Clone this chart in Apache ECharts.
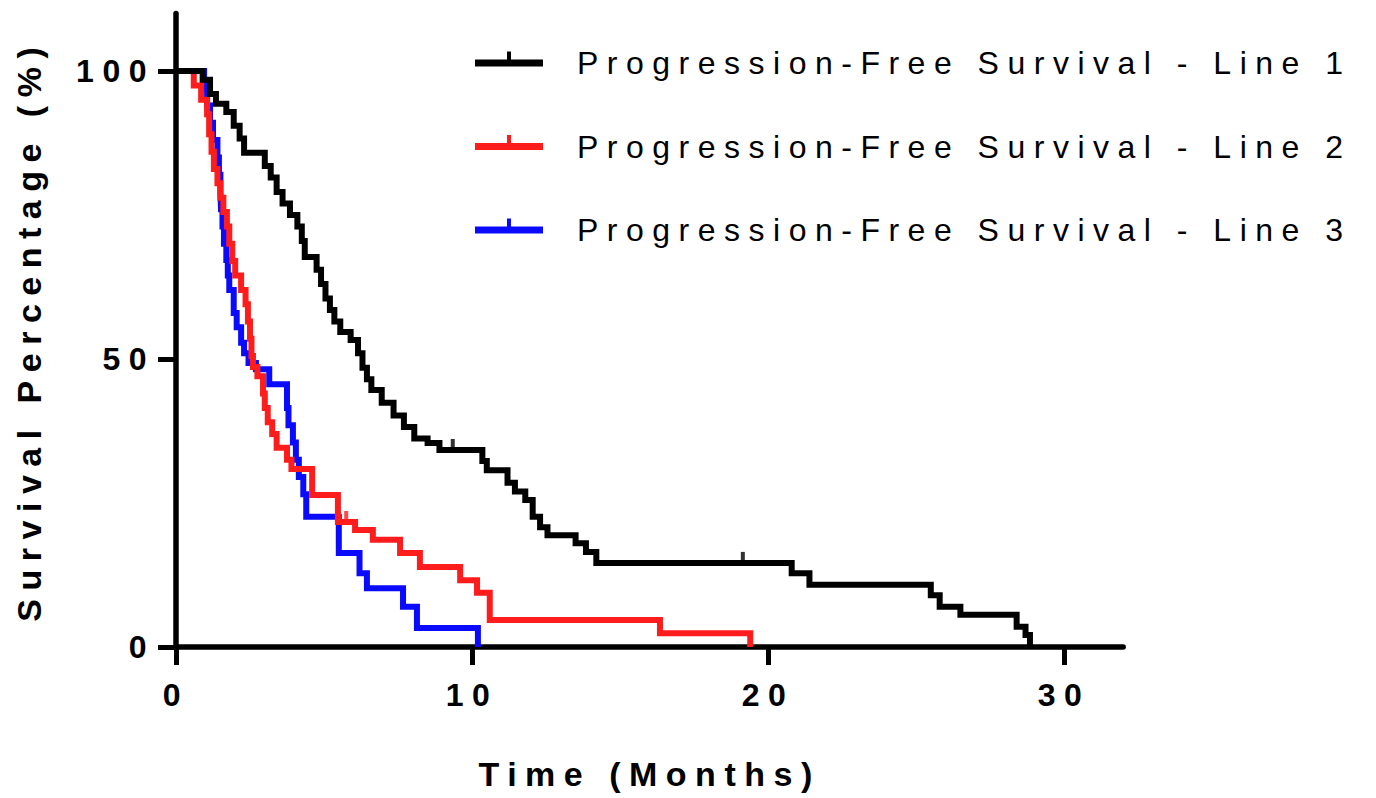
<!DOCTYPE html>
<html>
<head>
<meta charset="utf-8">
<script src="https://cdn.jsdelivr.net/npm/echarts@6.0.0/dist/echarts.min.js"></script>
<style>
  html, body { margin: 0; padding: 0; background: #fff; }
  #chart { width: 1376px; height: 798px; }
  #chart text { letter-spacing: 8.5px; }
</style>
</head>
<body>
<div id="chart"></div>
<script>
// ---- data ----
const seriesNames = [
  'Progression-Free Survival - Line 1',
  'Progression-Free Survival - Line 2',
  'Progression-Free Survival - Line 3'
];
const line1Months = [0, 0.9, 1.15, 1.35, 1.7, 1.95, 2.15, 2.3, 3.0, 3.2, 3.4, 3.6, 3.85, 4.1, 4.25, 4.35,
  4.75, 4.9, 5.05, 5.2, 5.35, 5.55, 5.9, 6.15, 6.3, 6.45, 6.6, 6.95, 7.35, 7.7, 8.05, 8.5, 8.9,
  10.35, 10.5, 11.2, 11.45, 11.8, 12.05, 12.3, 12.55, 13.5, 13.85, 14.2, 20.8, 21.4, 25.5, 25.8, 26.5, 28.4, 28.7, 28.85];
const line1Survival = [100, 98.5, 96, 94.3, 92.9, 90.5, 88.3, 85.8, 83.5, 81.5, 79, 77, 75, 73, 70.5, 67.7,
  65.5, 63, 60.5, 58.5, 56.5, 54.7, 53.3, 51, 48.5, 46.5, 44.6, 42.4, 40.2, 38.2, 36.2, 35.4, 34.2,
  32.3, 30.7, 28.5, 27, 25.5, 22.6, 20.8, 19.4, 18, 16.5, 14.6, 12.8, 10.8, 9, 7, 5.6, 3.5, 2.1, 0];
const line1Censored = [[9.35, 34.2], [19.15, 14.6]];

const line2Months = [0, 0.6, 0.85, 1.05, 1.12, 1.2, 1.28, 1.4, 1.5, 1.6, 1.72, 1.8, 1.9, 2.0, 2.2, 2.35, 2.43,
  2.5, 2.55, 2.6, 2.75, 2.94, 3.0, 3.1, 3.25, 3.4, 3.75, 3.9, 4.6, 5.47, 6.05, 6.65, 7.57, 8.24, 9.6, 10.17, 10.6, 16.35, 19.4];
const line2Survival = [100, 97.5, 95, 92.5, 89, 86, 83, 80.5, 78, 75.5, 73, 70, 67, 64.5, 62, 59.5, 56.5,
  53.5, 50.5, 48.6, 47, 44, 41.5, 39, 37, 34.6, 32.5, 30.9, 26.4, 21.7, 20.3, 18.6, 16.3, 13.9, 11.6, 9.4, 4.7, 2.4, 0];
const line2Censored = [[5.75, 21.7]];

const line3Months = [0, 0.95, 1.05, 1.15, 1.25, 1.4, 1.45, 1.5, 1.52, 1.57, 1.62, 1.7, 1.75, 1.8, 1.95, 2.05,
  2.2, 2.3, 2.45, 2.7, 3.15, 3.75, 3.8, 3.95, 4.05, 4.15, 4.3, 4.4, 5.5, 6.2, 6.45, 7.67, 8.14, 10.2];
const line3Survival = [100, 97, 94, 91, 88, 85, 82, 79, 76, 73, 70, 67.2, 64.5, 62, 58, 55.5,
  52.8, 51, 49.3, 48.2, 45.6, 41.5, 38.5, 35.5, 32.5, 29.5, 26.5, 22.6, 16.3, 12.8, 10.2, 7, 3.3, 0];
const line3Censored = [];

const xTicks = [0, 10, 20, 30];
const yTicks = [0, 50, 100];
const colors = ['#000000', '#ff1c1c', '#0a0aff'];

// ---- chart ----
function pairs(xs, ys) { return xs.map((x, i) => [x, ys[i]]); }
const FONT = '"Liberation Sans", Arial, sans-serif';
const legendIcon = 'path://M0,8L68,8L68,15L0,15Z M32,0L36,0L36,8L32,8Z M0,23L68,23';

const chart = echarts.init(document.getElementById('chart'), null, { renderer: 'svg' });

const lineData = [pairs(line1Months, line1Survival), pairs(line2Months, line2Survival), pairs(line3Months, line3Survival)];
const censorData = [line1Censored, line2Censored, line3Censored];

const series = [];
[2, 1, 0].forEach(i => {
  series.push({
    name: seriesNames[i],
    type: 'line',
    step: 'end',
    data: lineData[i],
    symbol: 'none',
    showSymbol: false,
    z: 5 - i,
    lineStyle: { color: colors[i], width: 6, join: 'miter' },
    itemStyle: { color: colors[i] },
    silent: true
  });
});
[0, 1, 2].forEach(i => {
  if (!censorData[i].length) return;
  series.push({
    name: 'censored-' + i,
    type: 'scatter',
    data: censorData[i],
    symbol: 'rect',
    symbolSize: [4, 11],
    symbolOffset: [0, '-50%'],
    itemStyle: { color: colors[i] },
    z: 10,
    silent: true
  });
});

chart.setOption({
  animation: false,
  backgroundColor: '#ffffff',
  grid: { left: 176, right: 252.8, top: 13.4, bottom: 151 },
  legend: {
    data: seriesNames,
    orient: 'vertical',
    left: 470,
    top: 42,
    itemWidth: 68,
    itemHeight: 23,
    itemGap: 51.5,
    icon: legendIcon,
    selectedMode: false,
    itemStyle: { borderWidth: 0 },
    textStyle: { fontSize: 32, color: '#000', fontFamily: FONT, padding: [0, 0, 0, 29] }
  },
  xAxis: {
    type: 'value',
    min: 0,
    max: 32,
    name: 'Time (Months)',
    nameLocation: 'middle',
    nameGap: 110,
    nameTextStyle: { fontSize: 34, fontWeight: 'bold', color: '#000', fontFamily: FONT },
    axisLine: { show: true, lineStyle: { color: '#000', width: 5.5 } },
    axisTick: { show: true, customValues: xTicks, length: 18, lineStyle: { color: '#000', width: 5 } },
    axisLabel: { customValues: xTicks, fontSize: 32, fontWeight: 'bold', color: '#000', fontFamily: FONT, margin: 32 },
    splitLine: { show: false }
  },
  yAxis: {
    type: 'value',
    min: 0,
    max: 110,
    name: 'Survival Percentage (%)',
    nameLocation: 'middle',
    nameGap: 130,
    nameTextStyle: { fontSize: 34, fontWeight: 'bold', color: '#000', fontFamily: FONT },
    axisLine: { show: true, lineStyle: { color: '#000', width: 5.5 } },
    axisTick: { show: true, customValues: yTicks, length: 18, lineStyle: { color: '#000', width: 5 } },
    axisLabel: { customValues: yTicks, fontSize: 32, fontWeight: 'bold', color: '#000', fontFamily: FONT, margin: 21 },
    splitLine: { show: false }
  },
  series: series
});
</script>
</body>
</html>
